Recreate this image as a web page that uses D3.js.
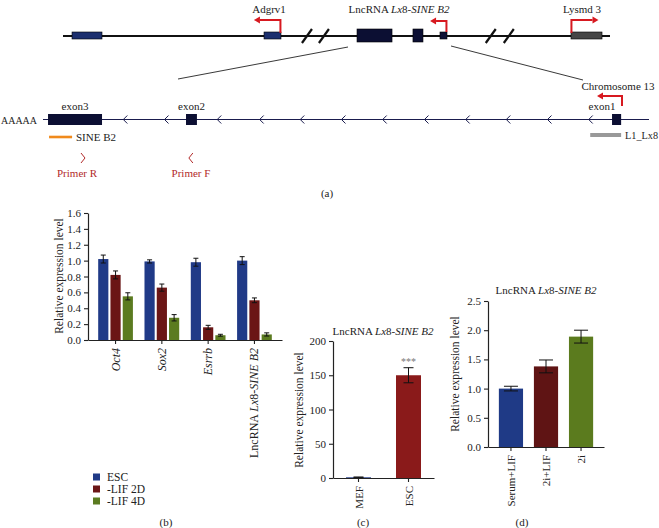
<!DOCTYPE html>
<html><head><meta charset="utf-8">
<script src="https://cdn.jsdelivr.net/npm/d3@7"></script>
<style>
html,body{margin:0;padding:0;background:#fff;}
svg{display:block;font-family:"Liberation Serif","Times New Roman",serif;}
svg text{font-family:"Liberation Serif","Times New Roman",serif;}
</style></head>
<body>
<svg id="chart" width="659" height="528"></svg>
<script>
// ---------- Panel (b) data ----------
const genesB = ["Oct4", "Sox2", "Esrrb", "LncRNA Lx8-SINE B2"];
const seriesB = ["ESC", "-LIF 2D", "-LIF 4D"];
const escB = [1.02, 0.99, 0.98, 1.00];
const escErrB = [0.05, 0.02, 0.05, 0.05];
const lif2dB = [0.82, 0.66, 0.16, 0.50];
const lif2dErrB = [0.05, 0.045, 0.025, 0.03];
const lif4dB = [0.55, 0.28, 0.06, 0.07];
const lif4dErrB = [0.045, 0.04, 0.012, 0.02];
const ticksB = [0, 0.2, 0.4, 0.6, 0.8, 1.0, 1.2, 1.4, 1.6];
// ---------- Panel (c) data ----------
const catsC = ["MEF", "ESC"];
const valsC = [1, 150];
const errC = [0.5, 11];
const ticksC = [0, 50, 100, 150, 200];
// ---------- Panel (d) data ----------
const catsD = ["Serum+LIF", "2i+LIF", "2i"];
const valsD = [1.00, 1.38, 1.89];
const errD = [0.04, 0.11, 0.11];
const ticksD = [0, 0.5, 1.0, 1.5, 2.0, 2.5];
// ---------- Panel (a) diagram features (percent along track) ----------
const topExons = [
  {s: 1.65, e: 7.13, h: 7, c: "#1c2f6e"},
  {s: 36.75, e: 39.85, h: 7, c: "#1c2f6e"},
  {s: 53.75, e: 60.15, h: 13, c: "#0c0f33"},
  {s: 63.98, e: 65.81, h: 13, c: "#0c0f33"},
  {s: 68.92, e: 70.2, h: 7, c: "#0c0f33"},
  {s: 92.87, e: 98.54, h: 7, c: "#454545"}
];
const topBreaks = [44.6, 47.7, 78.2, 81.5];
const lowExons = [
  {s: 0.83, e: 9.74, name: "exon3"},
  {s: 23.6, e: 25.4, name: "exon2"},
  {s: 93.9, e: 95.4, name: "exon1"}
];
const chevrons = [13.5, 20.3, 29.0, 36.0, 42.7, 49.5, 56.3, 63.2, 70.0, 76.7, 83.5, 90.3];

const colB = ["#203a87", "#6b1616", "#5b7b20"];
const colD = ["#1f3a86", "#5f1414", "#5b7b1e"];
const colC = ["#203a87", "#8a1a1a"];

const svg = d3.select("#chart");
const FS = 11;
const SERIF = "Liberation Serif, Times New Roman, serif";
const txtCol = "#222";

function lncLabel(sel) {
  const parts = [["LncRNA ", false], ["Lx", true], ["8-", false], ["SINE B2", true]];
  parts.forEach(p => sel.append("tspan").attr("font-style", p[1] ? "italic" : "normal").text(p[0]));
}

// ================= Panel (a) =================
const gA = svg.append("g");
const xTop = d3.scaleLinear().domain([0, 100]).range([63, 610]);
const yTop = 36;
gA.append("line").attr("x1", xTop(0)).attr("x2", xTop(100)).attr("y1", yTop).attr("y2", yTop)
  .attr("stroke", "#111").attr("stroke-width", 2.2);
topBreaks.forEach(b => {
  gA.append("line").attr("x1", xTop(b) - 5).attr("y1", yTop + 7).attr("x2", xTop(b) + 5).attr("y2", yTop - 7)
    .attr("stroke", "#111").attr("stroke-width", 2.2);
});
topExons.forEach(ex => {
  gA.append("rect").attr("x", xTop(ex.s)).attr("width", xTop(ex.e) - xTop(ex.s))
    .attr("y", yTop - ex.h / 2 - 0.5).attr("height", ex.h).attr("fill", ex.c)
    .attr("stroke", "#000").attr("stroke-width", 0.6);
});
const red = "#d71920";
function tss(x0, yBase, yTopA, x1, dir) {
  gA.append("path").attr("d", `M${x0},${yBase}V${yTopA}H${x1}`).attr("fill", "none")
    .attr("stroke", red).attr("stroke-width", 2);
  const t = dir < 0 ? `M${x1 - 6},${yTopA}L${x1},${yTopA - 3.5}L${x1},${yTopA + 3.5}Z`
                    : `M${x1 + 6},${yTopA}L${x1},${yTopA - 3.5}L${x1},${yTopA + 3.5}Z`;
  gA.append("path").attr("d", t).attr("fill", red);
}
tss(xTop(39.75), yTop - 3, 20, xTop(36.0), -1);
tss(xTop(70.1), yTop - 4, 21, xTop(68.2), -1);
tss(xTop(92.95), yTop - 3, 20, xTop(96.8), 1);

gA.append("text").attr("x", 269).attr("y", 13).attr("text-anchor", "middle").attr("font-size", FS).attr("fill", txtCol).text("Adgrv1");
gA.append("text").attr("x", 399).attr("y", 13).attr("text-anchor", "middle").attr("font-size", FS).attr("fill", txtCol).call(lncLabel);
gA.append("text").attr("x", 582).attr("y", 13).attr("text-anchor", "middle").attr("font-size", FS).attr("fill", txtCol).text("Lysmd 3");

gA.append("line").attr("x1", 348).attr("y1", 47).attr("x2", 178).attr("y2", 79).attr("stroke", "#222").attr("stroke-width", 0.9);
gA.append("line").attr("x1", 451).attr("y1", 46).attr("x2", 583).attr("y2", 80).attr("stroke", "#222").attr("stroke-width", 0.9);
gA.append("text").attr("x", 618).attr("y", 90).attr("text-anchor", "middle").attr("font-size", FS).attr("fill", txtCol).text("Chromosome 13");

const xLow = d3.scaleLinear().domain([0, 100]).range([43, 649]);
const yLow = 119.5;
const navy = "#1a1c4e";
gA.append("line").attr("x1", xLow(0)).attr("x2", xLow(100)).attr("y1", yLow).attr("y2", yLow).attr("stroke", navy).attr("stroke-width", 1);
chevrons.forEach(c => {
  const x = xLow(c);
  gA.append("path").attr("d", `M${x + 2.5},${yLow - 4}L${x - 1.5},${yLow}L${x + 2.5},${yLow + 4}`)
    .attr("fill", "none").attr("stroke", navy).attr("stroke-width", 1);
});
lowExons.forEach(ex => {
  gA.append("rect").attr("x", xLow(ex.s)).attr("width", xLow(ex.e) - xLow(ex.s)).attr("y", yLow - 5.5).attr("height", 11)
    .attr("fill", "#0c0f33");
  const cx = ex.name === "exon1" ? 602 : (xLow(ex.s) + xLow(ex.e)) / 2;
  gA.append("text").attr("x", cx).attr("y", 110).attr("text-anchor", "middle").attr("font-size", FS).attr("fill", txtCol).text(ex.name);
});
gA.append("text").attr("x", 1).attr("y", 123.5).attr("font-size", 10.5)
  .attr("textLength", 36).attr("lengthAdjust", "spacingAndGlyphs").attr("fill", txtCol).text("AAAAA");
gA.append("path").attr("d", `M622,106V96H603`).attr("fill", "none").attr("stroke", red).attr("stroke-width", 2);
gA.append("path").attr("d", `M597,96L603,92.5L603,99.5Z`).attr("fill", red);
gA.append("line").attr("x1", xLow(1.0)).attr("x2", xLow(4.8)).attr("y1", 137).attr("y2", 137).attr("stroke", "#f08a1c").attr("stroke-width", 2.6);
gA.append("text").attr("x", 76).attr("y", 141).attr("font-size", FS).attr("fill", txtCol).text("SINE B2");
gA.append("line").attr("x1", xLow(90.3)).attr("x2", xLow(95.4)).attr("y1", 135).attr("y2", 135).attr("stroke", "#999").attr("stroke-width", 4);
gA.append("text").attr("x", 625).attr("y", 139).attr("font-size", 10.5)
  .attr("textLength", 33).attr("lengthAdjust", "spacingAndGlyphs").attr("fill", txtCol).text("L1_Lx8");
const primerCol = "#b22a2a";
const pR = xLow(6.6), pF = xLow(24.4);
gA.append("path").attr("d", `M${pR - 2},153L${pR + 2},158L${pR - 2},163`).attr("fill", "none").attr("stroke", primerCol).attr("stroke-width", 1);
gA.append("path").attr("d", `M${pF + 2},153L${pF - 2},158L${pF + 2},163`).attr("fill", "none").attr("stroke", primerCol).attr("stroke-width", 1);
gA.append("text").attr("x", 77).attr("y", 177).attr("text-anchor", "middle").attr("font-size", FS).attr("fill", primerCol).text("Primer R");
gA.append("text").attr("x", 191).attr("y", 177).attr("text-anchor", "middle").attr("font-size", FS).attr("fill", primerCol).text("Primer F");
gA.append("text").attr("x", 327).attr("y", 197).attr("text-anchor", "middle").attr("font-size", FS).attr("fill", txtCol).text("(a)");

// ================= helpers =================
function styleAxis(g) {
  g.attr("font-family", SERIF).attr("font-size", FS);
  g.select(".domain").attr("stroke", "#222").attr("stroke-width", 1.2);
  g.selectAll(".tick line").attr("stroke", "#222").attr("stroke-width", 1.1);
  g.selectAll(".tick text").attr("fill", txtCol).attr("font-size", FS).attr("font-family", SERIF);
}
function errBar(g, x, y0, y1, cap) {
  g.append("line").attr("x1", x).attr("x2", x).attr("y1", y0).attr("y2", y1).attr("stroke", "#111").attr("stroke-width", 1);
  [y0, y1].forEach(y => g.append("line").attr("x1", x - cap / 2).attr("x2", x + cap / 2).attr("y1", y).attr("y2", y).attr("stroke", "#111").attr("stroke-width", 1));
}
function yLabel(x, y) {
  svg.append("text").attr("transform", `translate(${x},${y}) rotate(-90)`).attr("text-anchor", "middle")
    .attr("font-size", 11.5).attr("fill", txtCol).text("Relative expression level");
}

// ================= Panel (b) =================
const gB = svg.append("g");
const yB = d3.scaleLinear().domain([0, 1.6]).range([340, 213]);
const xB = d3.scaleBand().domain(genesB).range([88, 282]).paddingInner(0.25).paddingOuter(0.22);
const xBi = d3.scaleBand().domain(seriesB).range([0, xB.bandwidth()]).paddingInner(0.17);
const valsB = [escB, lif2dB, lif4dB], errsB = [escErrB, lif2dErrB, lif4dErrB];
genesB.forEach((gname, gi) => {
  seriesB.forEach((s, si) => {
    const v = valsB[si][gi], e = errsB[si][gi];
    const x = xB(gname) + xBi(s);
    gB.append("rect").attr("x", x).attr("width", xBi.bandwidth()).attr("y", yB(v)).attr("height", yB(0) - yB(v)).attr("fill", colB[si]);
    errBar(gB, x + xBi.bandwidth() / 2, yB(v + e), yB(v - e), 5);
  });
});
const axBy = gB.append("g").attr("transform", "translate(88,0)")
  .call(d3.axisLeft(yB).tickValues(ticksB).tickFormat(d3.format(".1f")).tickSize(4).tickSizeOuter(0));
styleAxis(axBy);
const axBx = gB.append("g").attr("transform", "translate(0,340)")
  .call(d3.axisBottom(xB).tickSize(4).tickSizeOuter(0).tickFormat(""));
styleAxis(axBx);
genesB.forEach(gname => {
  const t = gB.append("text").attr("transform", `translate(${xB(gname) + xB.bandwidth() / 2 + 4},348) rotate(-90)`)
    .attr("text-anchor", "end").attr("font-size", 12).attr("fill", txtCol);
  if (gname.startsWith("LncRNA")) t.call(lncLabel);
  else t.attr("font-style", "italic").text(gname);
});
yLabel(63, 276);
seriesB.forEach((s, i) => {
  const y = 477 + i * 12;
  gB.append("rect").attr("x", 93).attr("y", y - 3.5).attr("width", 7).attr("height", 7).attr("fill", colB[i]);
  gB.append("text").attr("x", 107).attr("y", y + 4).attr("font-size", 11.5).attr("fill", txtCol).text(s);
});
gB.append("text").attr("x", 166).attr("y", 526).attr("text-anchor", "middle").attr("font-size", FS).attr("fill", txtCol).text("(b)");

// ================= Panel (c) =================
const gC = svg.append("g");
const yC = d3.scaleLinear().domain([0, 200]).range([478, 341]);
const xC = d3.scaleBand().domain(catsC).range([333, 434]).paddingInner(0.5).paddingOuter(0.26);
catsC.forEach((c, i) => {
  const x = xC(c);
  gC.append("rect").attr("x", x).attr("width", xC.bandwidth()).attr("y", yC(valsC[i])).attr("height", yC(0) - yC(valsC[i])).attr("fill", colC[i]);
  errBar(gC, x + xC.bandwidth() / 2, yC(valsC[i] + errC[i]), yC(valsC[i] - errC[i]), 10);
});
const axCy = gC.append("g").attr("transform", "translate(333,0)")
  .call(d3.axisLeft(yC).tickValues(ticksC).tickFormat(d3.format("d")).tickSize(4).tickSizeOuter(0));
styleAxis(axCy);
const axCx = gC.append("g").attr("transform", "translate(0,478)")
  .call(d3.axisBottom(xC).tickSize(4).tickSizeOuter(0).tickFormat(""));
styleAxis(axCx);
catsC.forEach(c => {
  gC.append("text").attr("transform", `translate(${xC(c) + xC.bandwidth() / 2 + 4},486) rotate(-90)`)
    .attr("text-anchor", "end").attr("font-size", FS).attr("fill", txtCol).text(c);
});
gC.append("text").attr("x", xC("ESC") + xC.bandwidth() / 2).attr("y", yC(valsC[1] + errC[1]) - 3).attr("text-anchor", "middle")
  .attr("font-size", 10).attr("fill", "#777").text("***");
gC.append("text").attr("x", 383).attr("y", 335).attr("text-anchor", "middle").attr("font-size", FS).attr("fill", txtCol).call(lncLabel);
yLabel(303, 410);
gC.append("text").attr("x", 363).attr("y", 526).attr("text-anchor", "middle").attr("font-size", FS).attr("fill", txtCol).text("(c)");

// ================= Panel (d) =================
const gD = svg.append("g");
const yD = d3.scaleLinear().domain([0, 2.5]).range([447, 301]);
const xD = d3.scaleBand().domain(catsD).range([488, 604]).paddingInner(0.31).paddingOuter(0.31);
catsD.forEach((c, i) => {
  const x = xD(c);
  gD.append("rect").attr("x", x).attr("width", xD.bandwidth()).attr("y", yD(valsD[i])).attr("height", yD(0) - yD(valsD[i])).attr("fill", colD[i]);
  errBar(gD, x + xD.bandwidth() / 2, yD(valsD[i] + errD[i]), yD(valsD[i] - errD[i]), 14);
});
const axDy = gD.append("g").attr("transform", "translate(488,0)")
  .call(d3.axisLeft(yD).tickValues(ticksD).tickFormat(d3.format(".1f")).tickSize(4).tickSizeOuter(0));
styleAxis(axDy);
const axDx = gD.append("g").attr("transform", "translate(0,447)")
  .call(d3.axisBottom(xD).tickSize(4).tickSizeOuter(0).tickFormat(""));
styleAxis(axDx);
catsD.forEach(c => {
  gD.append("text").attr("transform", `translate(${xD(c) + xD.bandwidth() / 2 + 4},455) rotate(-90)`)
    .attr("text-anchor", "end").attr("font-size", FS).attr("fill", txtCol).text(c);
});
gD.append("text").attr("x", 546).attr("y", 294).attr("text-anchor", "middle").attr("font-size", FS).attr("fill", txtCol).call(lncLabel);
yLabel(459, 374);
gD.append("text").attr("x", 522).attr("y", 526).attr("text-anchor", "middle").attr("font-size", FS).attr("fill", txtCol).text("(d)");
</script>
</body></html>
